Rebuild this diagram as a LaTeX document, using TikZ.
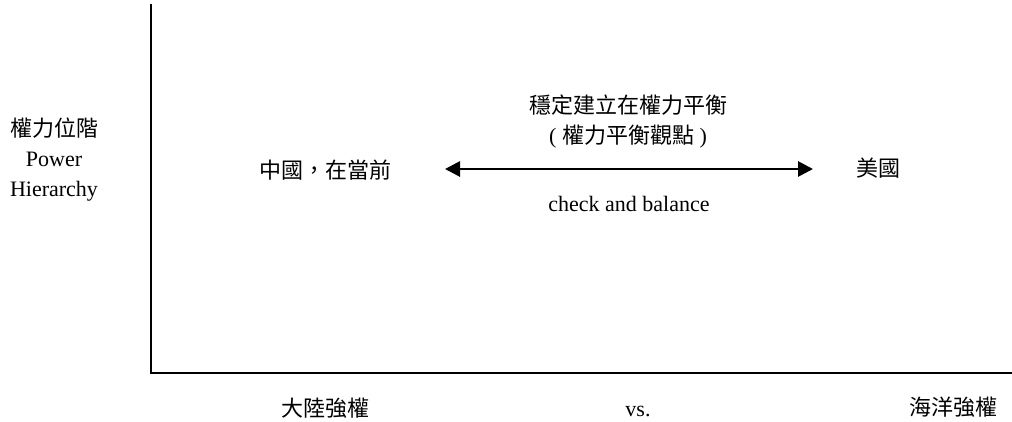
\documentclass[tikz,border=0pt]{standalone}
\usepackage{fontspec}
\setmainfont{Liberation Serif}
\newfontfamily\cjk{Noto Sans CJK TC}
\usetikzlibrary{arrows.meta}
\tikzset{axisline/.style={line width=2pt, black},
	balancearrow/.style={line width=2.8pt, {Triangle[length=15pt,width=15pt]}-{Triangle[length=15pt,width=15pt]}},
	labeltext/.style={inner sep=0pt, align=center, font=\fontsize{22}{30}\selectfont}}

\begin{document}
\begin{tikzpicture}[x=1pt,y=-1pt]
\useasboundingbox (0,0) rectangle (1012,421);
% axes
\coordinate (top) at (151,4);
\coordinate (origin) at (151,373);
\coordinate (right) at (1012,373);
\draw[axisline] (top)--(origin)--(right);
% y axis label
\node[labeltext] (ylabel) at (54,160) {{\cjk 權力位階}\\Power\\Hierarchy};
% powers
\node[labeltext] (china) at (325,170) {\cjk 中國，在當前};
\node[labeltext] (usa) at (878,168) {\cjk 美國};
\coordinate (arrL) at (445,169);
\coordinate (arrR) at (813,169);
\draw[balancearrow] (arrL)--(arrR);
\node[labeltext] (balance) at (628,122) {{\cjk 穩定建立在權力平衡}\\( {\cjk 權力平衡觀點} )};
\node[labeltext] (check) at (629,204) {check and balance};
% x axis labels
\node[labeltext] (land) at (325,408) {\cjk 大陸強權};
\node[labeltext, anchor=base] (vs) at (638,416) {vs.};
\node[labeltext] (sea) at (953,407) {\cjk 海洋強權};
\end{tikzpicture}
\end{document}
